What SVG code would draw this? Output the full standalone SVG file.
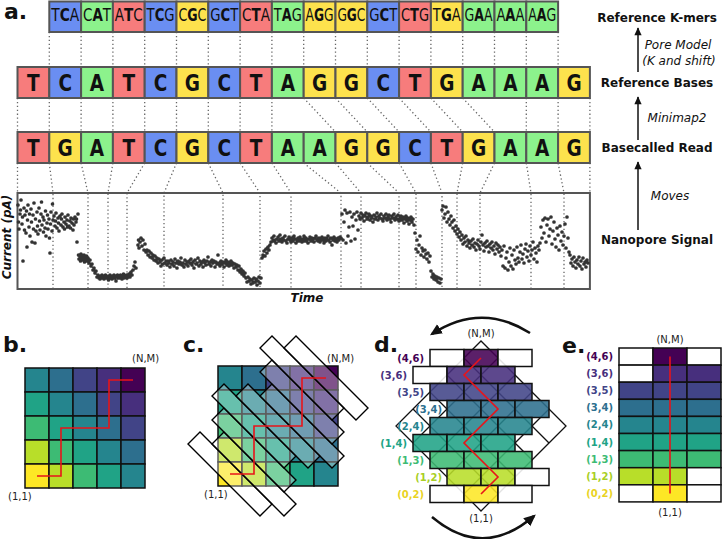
<svg xmlns="http://www.w3.org/2000/svg" width="722" height="539" viewBox="0 0 722 539">
<defs>
<style>
.T{fill:#f77c7c}.C{fill:#6a8ef2}.A{fill:#8cf28c}.G{fill:#fde24d}
.cell{stroke:#555;stroke-width:2}
.km{font-family:"DejaVu Sans",sans-serif;font-size:16px;text-anchor:middle;fill:#111}
.bs{font-family:"DejaVu Sans",sans-serif;font-weight:bold;font-size:18.5px;text-anchor:middle;fill:#111}
.dl{stroke:#666;stroke-width:1.3;stroke-dasharray:1.3 2.6;fill:none}
.rl{font-family:"DejaVu Sans",sans-serif;font-weight:bold;font-size:12px;text-anchor:middle;fill:#111}
.it{font-family:"DejaVu Sans",sans-serif;font-style:italic;font-size:12px;text-anchor:middle;fill:#111}
.bi{font-family:"DejaVu Sans",sans-serif;font-style:italic;font-weight:bold;font-size:12px;text-anchor:middle;fill:#111}
.pl{font-family:"DejaVu Sans",sans-serif;font-weight:bold;font-size:22px;fill:#111}
.sm{font-family:"DejaVu Sans",sans-serif;font-size:10px;fill:#222}
.bl{font-family:"DejaVu Sans",sans-serif;font-weight:bold;font-size:10px;text-anchor:end}
.g rect{stroke:#111;stroke-width:1.5}
.d0{fill:#fde725}.d1{fill:#b8de29}.d2{fill:#3dbb74}.d3{fill:#20a386}.d4{fill:#25858e}.d5{fill:#2d6f8e}.d6{fill:#414487}.d7{fill:#472f7d}.d8{fill:#440154}.w{fill:#fff}
.t0{fill:#e9d31f}.t1{fill:#a9cf25}.t2{fill:#3dbb74}.t3{fill:#20a386}.t4{fill:#25858e}.t5{fill:#2d6f8e}.t6{fill:#414487}.t7{fill:#472f7d}.t8{fill:#440154}
.rp{fill:none;stroke:#e8141a;stroke-width:1.6}
.band{fill:#fff;fill-opacity:.32;stroke:#000;stroke-width:1.4}
.arr{stroke:#111;stroke-width:1.5;fill:none}
.carr{stroke:#111;stroke-width:2.6;fill:none}
</style>
<marker id="ah" viewBox="0 0 10 10" refX="9" refY="5" markerWidth="10" markerHeight="8" orient="auto" markerUnits="userSpaceOnUse"><path d="M0,0.5 L10,5 L0,9.5z" fill="#111"/></marker>
<marker id="ahb" viewBox="0 0 10 10" refX="8" refY="5" markerWidth="12" markerHeight="12" orient="auto" markerUnits="userSpaceOnUse"><path d="M0,0.5 L10,5 L0,9.5z" fill="#111"/></marker>
</defs>
<rect width="722" height="539" fill="#fff"/>

<text class="pl" x="4" y="19">a.</text>

<g id="connectors">
<path class="dl" d="M49.3 32V67M81.1 32V67M112.9 32V67M144.7 32V67M176.5 32V67M208.3 32V67M240.1 32V67M271.9 32V67M303.7 32V67M335.5 32V67M367.3 32V67M399.1 32V67M430.9 32V67M462.7 32V67M494.5 32V67M526.3 32V67M558.1 32V67"/>
<path class="dl" d="M17.5 98V132M49.3 98V132M81.1 98V132M112.9 98V132M144.7 98V132M176.5 98V132M208.3 98V132M240.1 98V132M271.9 98V132M303.7 98L335.5 132M335.5 98L367.3 132M367.3 98L399.1 132M399.1 98L430.9 132M430.9 98L462.7 132M462.7 98L494.5 132M526.3 98V132M558.1 98V132M589.9 98V132"/>
<path class="dl" d="M17.5 163V193M49.3 163L53 193V289M81.1 163L88 193V289M112.9 163L108 193V289M144.7 163L127 193V289M176.5 163L164 193V289M208.3 163L223 193V289M240.1 163L260 193V289M271.9 163L291 193V289M303.7 163L341 193V289M335.5 163L361 193V289M367.3 163L399 193V289M399.1 163L416 193V289M430.9 163L442 193V289M462.7 163L457 193V289M494.5 163L480 193V289M526.3 163L531 193V289M558.1 163L564 193V289M589.9 163V193"/>
<path class="arr" d="M638 72V28" marker-end="url(#ah)"/>
<path class="arr" d="M638 140V97" marker-end="url(#ah)"/>
<path class="arr" d="M638 230V162" marker-end="url(#ah)"/>
</g>

<g id="kmers">
<rect class="cell C" x="49.3" y="1.5" width="31.8" height="30.5"/>
<rect class="cell A" x="81.1" y="1.5" width="31.8" height="30.5"/>
<rect class="cell T" x="112.9" y="1.5" width="31.8" height="30.5"/>
<rect class="cell C" x="144.7" y="1.5" width="31.8" height="30.5"/>
<rect class="cell G" x="176.5" y="1.5" width="31.8" height="30.5"/>
<rect class="cell C" x="208.3" y="1.5" width="31.8" height="30.5"/>
<rect class="cell T" x="240.1" y="1.5" width="31.8" height="30.5"/>
<rect class="cell A" x="271.9" y="1.5" width="31.8" height="30.5"/>
<rect class="cell G" x="303.7" y="1.5" width="31.8" height="30.5"/>
<rect class="cell G" x="335.5" y="1.5" width="31.8" height="30.5"/>
<rect class="cell C" x="367.3" y="1.5" width="31.8" height="30.5"/>
<rect class="cell T" x="399.1" y="1.5" width="31.8" height="30.5"/>
<rect class="cell G" x="430.9" y="1.5" width="31.8" height="30.5"/>
<rect class="cell A" x="462.7" y="1.5" width="31.8" height="30.5"/>
<rect class="cell A" x="494.5" y="1.5" width="31.8" height="30.5"/>
<rect class="cell A" x="526.3" y="1.5" width="31.8" height="30.5"/>
<text class="km" textLength="28" lengthAdjust="spacingAndGlyphs" transform="matrix(1 0 0 1.15 65.2 21)">T<tspan font-weight="bold">C</tspan>A</text>
<text class="km" textLength="28" lengthAdjust="spacingAndGlyphs" transform="matrix(1 0 0 1.15 97 21)">C<tspan font-weight="bold">A</tspan>T</text>
<text class="km" textLength="28" lengthAdjust="spacingAndGlyphs" transform="matrix(1 0 0 1.15 128.8 21)">A<tspan font-weight="bold">T</tspan>C</text>
<text class="km" textLength="28" lengthAdjust="spacingAndGlyphs" transform="matrix(1 0 0 1.15 160.6 21)">T<tspan font-weight="bold">C</tspan>G</text>
<text class="km" textLength="28" lengthAdjust="spacingAndGlyphs" transform="matrix(1 0 0 1.15 192.4 21)">C<tspan font-weight="bold">G</tspan>C</text>
<text class="km" textLength="28" lengthAdjust="spacingAndGlyphs" transform="matrix(1 0 0 1.15 224.2 21)">G<tspan font-weight="bold">C</tspan>T</text>
<text class="km" textLength="28" lengthAdjust="spacingAndGlyphs" transform="matrix(1 0 0 1.15 256 21)">C<tspan font-weight="bold">T</tspan>A</text>
<text class="km" textLength="28" lengthAdjust="spacingAndGlyphs" transform="matrix(1 0 0 1.15 287.8 21)">T<tspan font-weight="bold">A</tspan>G</text>
<text class="km" textLength="28" lengthAdjust="spacingAndGlyphs" transform="matrix(1 0 0 1.15 319.6 21)">A<tspan font-weight="bold">G</tspan>G</text>
<text class="km" textLength="28" lengthAdjust="spacingAndGlyphs" transform="matrix(1 0 0 1.15 351.4 21)">G<tspan font-weight="bold">G</tspan>C</text>
<text class="km" textLength="28" lengthAdjust="spacingAndGlyphs" transform="matrix(1 0 0 1.15 383.2 21)">G<tspan font-weight="bold">C</tspan>T</text>
<text class="km" textLength="28" lengthAdjust="spacingAndGlyphs" transform="matrix(1 0 0 1.15 415 21)">C<tspan font-weight="bold">T</tspan>G</text>
<text class="km" textLength="28" lengthAdjust="spacingAndGlyphs" transform="matrix(1 0 0 1.15 446.8 21)">T<tspan font-weight="bold">G</tspan>A</text>
<text class="km" textLength="28" lengthAdjust="spacingAndGlyphs" transform="matrix(1 0 0 1.15 478.6 21)">G<tspan font-weight="bold">A</tspan>A</text>
<text class="km" textLength="28" lengthAdjust="spacingAndGlyphs" transform="matrix(1 0 0 1.15 510.4 21)">A<tspan font-weight="bold">A</tspan>A</text>
<text class="km" textLength="28" lengthAdjust="spacingAndGlyphs" transform="matrix(1 0 0 1.15 542.2 21)">A<tspan font-weight="bold">A</tspan>G</text>
</g>

<g id="reference-bases">
<rect class="cell T" x="17.5" y="67" width="31.8" height="31"/>
<rect class="cell C" x="49.3" y="67" width="31.8" height="31"/>
<rect class="cell A" x="81.1" y="67" width="31.8" height="31"/>
<rect class="cell T" x="112.9" y="67" width="31.8" height="31"/>
<rect class="cell C" x="144.7" y="67" width="31.8" height="31"/>
<rect class="cell G" x="176.5" y="67" width="31.8" height="31"/>
<rect class="cell C" x="208.3" y="67" width="31.8" height="31"/>
<rect class="cell T" x="240.1" y="67" width="31.8" height="31"/>
<rect class="cell A" x="271.9" y="67" width="31.8" height="31"/>
<rect class="cell G" x="303.7" y="67" width="31.8" height="31"/>
<rect class="cell G" x="335.5" y="67" width="31.8" height="31"/>
<rect class="cell C" x="367.3" y="67" width="31.8" height="31"/>
<rect class="cell T" x="399.1" y="67" width="31.8" height="31"/>
<rect class="cell G" x="430.9" y="67" width="31.8" height="31"/>
<rect class="cell A" x="462.7" y="67" width="31.8" height="31"/>
<rect class="cell A" x="494.5" y="67" width="31.8" height="31"/>
<rect class="cell A" x="526.3" y="67" width="31.8" height="31"/>
<rect class="cell G" x="558.1" y="67" width="31.8" height="31"/>
<text class="bs" transform="matrix(1 0 0 1.2 33.4 90.6)">T</text>
<text class="bs" transform="matrix(1 0 0 1.2 65.2 90.6)">C</text>
<text class="bs" transform="matrix(1 0 0 1.2 97 90.6)">A</text>
<text class="bs" transform="matrix(1 0 0 1.2 128.8 90.6)">T</text>
<text class="bs" transform="matrix(1 0 0 1.2 160.6 90.6)">C</text>
<text class="bs" transform="matrix(1 0 0 1.2 192.4 90.6)">G</text>
<text class="bs" transform="matrix(1 0 0 1.2 224.2 90.6)">C</text>
<text class="bs" transform="matrix(1 0 0 1.2 256 90.6)">T</text>
<text class="bs" transform="matrix(1 0 0 1.2 287.8 90.6)">A</text>
<text class="bs" transform="matrix(1 0 0 1.2 319.6 90.6)">G</text>
<text class="bs" transform="matrix(1 0 0 1.2 351.4 90.6)">G</text>
<text class="bs" transform="matrix(1 0 0 1.2 383.2 90.6)">C</text>
<text class="bs" transform="matrix(1 0 0 1.2 415 90.6)">T</text>
<text class="bs" transform="matrix(1 0 0 1.2 446.8 90.6)">G</text>
<text class="bs" transform="matrix(1 0 0 1.2 478.6 90.6)">A</text>
<text class="bs" transform="matrix(1 0 0 1.2 510.4 90.6)">A</text>
<text class="bs" transform="matrix(1 0 0 1.2 542.2 90.6)">A</text>
<text class="bs" transform="matrix(1 0 0 1.2 574 90.6)">G</text>
</g>

<g id="basecalled-read">
<rect class="cell T" x="17.5" y="132" width="31.8" height="31"/>
<rect class="cell G" x="49.3" y="132" width="31.8" height="31"/>
<rect class="cell A" x="81.1" y="132" width="31.8" height="31"/>
<rect class="cell T" x="112.9" y="132" width="31.8" height="31"/>
<rect class="cell C" x="144.7" y="132" width="31.8" height="31"/>
<rect class="cell G" x="176.5" y="132" width="31.8" height="31"/>
<rect class="cell C" x="208.3" y="132" width="31.8" height="31"/>
<rect class="cell T" x="240.1" y="132" width="31.8" height="31"/>
<rect class="cell A" x="271.9" y="132" width="31.8" height="31"/>
<rect class="cell A" x="303.7" y="132" width="31.8" height="31"/>
<rect class="cell G" x="335.5" y="132" width="31.8" height="31"/>
<rect class="cell G" x="367.3" y="132" width="31.8" height="31"/>
<rect class="cell C" x="399.1" y="132" width="31.8" height="31"/>
<rect class="cell T" x="430.9" y="132" width="31.8" height="31"/>
<rect class="cell G" x="462.7" y="132" width="31.8" height="31"/>
<rect class="cell A" x="494.5" y="132" width="31.8" height="31"/>
<rect class="cell A" x="526.3" y="132" width="31.8" height="31"/>
<rect class="cell G" x="558.1" y="132" width="31.8" height="31"/>
<text class="bs" transform="matrix(1 0 0 1.2 33.4 155.6)">T</text>
<text class="bs" transform="matrix(1 0 0 1.2 65.2 155.6)">G</text>
<text class="bs" transform="matrix(1 0 0 1.2 97 155.6)">A</text>
<text class="bs" transform="matrix(1 0 0 1.2 128.8 155.6)">T</text>
<text class="bs" transform="matrix(1 0 0 1.2 160.6 155.6)">C</text>
<text class="bs" transform="matrix(1 0 0 1.2 192.4 155.6)">G</text>
<text class="bs" transform="matrix(1 0 0 1.2 224.2 155.6)">C</text>
<text class="bs" transform="matrix(1 0 0 1.2 256 155.6)">T</text>
<text class="bs" transform="matrix(1 0 0 1.2 287.8 155.6)">A</text>
<text class="bs" transform="matrix(1 0 0 1.2 319.6 155.6)">A</text>
<text class="bs" transform="matrix(1 0 0 1.2 351.4 155.6)">G</text>
<text class="bs" transform="matrix(1 0 0 1.2 383.2 155.6)">G</text>
<text class="bs" transform="matrix(1 0 0 1.2 415 155.6)">C</text>
<text class="bs" transform="matrix(1 0 0 1.2 446.8 155.6)">T</text>
<text class="bs" transform="matrix(1 0 0 1.2 478.6 155.6)">G</text>
<text class="bs" transform="matrix(1 0 0 1.2 510.4 155.6)">A</text>
<text class="bs" transform="matrix(1 0 0 1.2 542.2 155.6)">A</text>
<text class="bs" transform="matrix(1 0 0 1.2 574 155.6)">G</text>
</g>

<g id="signal">
<rect x="17.5" y="193" width="572.4" height="96" fill="none" stroke="#555" stroke-width="2"/>
<path fill="none" stroke="#333" stroke-width="3.7" stroke-linecap="round" d="M18 205h0M18.5 222h0M19 229h0M20 214h0M20.5 210h0M21 200h0M22 224h0M22.5 217h0M23 261h0M24 208h0M24.5 230h0M25 215h0M26 233h0M26.5 211h0M27 247h0M27.5 220h0M28 205h0M29 227h0M29.5 214h0M30 236h0M31 209h0M31.5 222h0M32 242h0M33 215h0M33.5 229h0M34 203h0M35 243h0M35.5 219h0M36 231h0M37 212h0M37.5 226h0M38 234h0M39 208h0M39.5 221h0M40 230h0M41 214h0M41.5 202h0M42 225h0M43 217h0M43.5 232h0M44 220h0M45 228h0M45.5 211h0M46 236h0M47 223h0M47.5 215h0M48 229h0M49 219h0M49.5 238h0M50 253h0M50.5 224h0M51 212h0M52 231h0M52.5 204h0M53 220h0M54 216h0M55 226h0M55.5 221h0M56 213h0M57 228h0M58 218h0M58.5 223h0M59 231h0M60 216h0M61 225h0M61.5 219h0M62 214h0M63 227h0M64 222h0M64.5 229h0M65 217h0M66 224h0M67 220h0M67.5 227h0M68 215h0M69 226h0M70 221h0M70.5 228h0M71 218h0M72 223h0M73 230h0M73.5 219h0M74 225h0M75 217h0M76 222h0M76.5 219h0M77 242h0M78 214h0M78.5 255h0M79 259h0M80 257h0M80.5 261h0M81 254h0M82 258h0M82.5 256h0M83 260h0M84 255h0M84.5 262h0M85 257h0M86 259h0M86.5 256h0M87 261h0M88 258h0M89 263h0M90 260h0M91 266h0M92 264h0M93 270h0M94 268h0M95 273h0M96 271h0M97 277h0M98 275h0M99 278h0M99.5 276h0M100 279h0M101 277h0M102 275h0M102.5 278h0M103 276h0M104 279h0M105 277h0M105.5 275h0M106 278h0M107 276h0M108 278h0M108.5 280h0M109 277h0M110 275h0M111 278h0M111.5 276h0M112 279h0M113 277h0M114 275h0M114.5 278h0M115 276h0M116 281h0M117 277h0M117.5 275h0M118 278h0M119 276h0M120 278h0M120.5 275h0M121 277h0M122 279h0M123 276h0M123.5 274h0M124 278h0M125 276h0M126 277h0M126.5 275h0M127 278h0M128 276h0M129 274h0M130 277h0M131 272h0M132 275h0M133 270h0M134 266h0M135 262h0M136 268h0M138 245h0M138.5 240h0M139 248h0M140 242h0M141 238h0M142 246h0M143 240h0M144 250h0M145 244h0M146 252h0M147 250h0M148 255h0M149 251h0M150 257h0M151 253h0M152 258h0M153 255h0M154 260h0M155 256h0M156 261h0M157 258h0M158 263h0M159 259h0M160 262h0M161 266h0M162 260h0M163 264h0M164 258h0M165 263h0M166 261h0M167 265h0M168 261h0M169 263h0M170 267h0M171 260h0M172 264h0M173 262h0M174 266h0M175 259h0M176 263h0M177 268h0M178 261h0M179 264h0M180 262h0M181 258h0M182 265h0M183 263h0M184 267h0M185 260h0M186 264h0M187 262h0M188 266h0M189 261h0M190 263h0M191 259h0M192 265h0M193 262h0M194 268h0M195 260h0M196 264h0M197 263h0M198 258h0M199 266h0M200 261h0M201 264h0M202 262h0M203 267h0M204 260h0M205 263h0M206 265h0M207 261h0M208 257h0M209 264h0M210 262h0M211 266h0M212 260h0M213 263h0M214 261h0M215 267h0M216 262h0M217 264h0M218 255h0M219 263h0M220 266h0M221 261h0M222 264h0M223 262h0M224 267h0M225 263h0M226 260h0M227 265h0M228 262h0M229 266h0M230 263h0M231 261h0M232 265h0M233 263h0M234 268h0M235 264h0M236 267h0M237 265h0M238 270h0M239 266h0M240 272h0M241 269h0M242 274h0M243 271h0M244 276h0M245 273h0M246 278h0M247 282h0M248 277h0M249 281h0M250 279h0M251 284h0M252 280h0M253 283h0M254 278h0M255 282h0M256 279h0M257 285h0M258 281h0M259 277h0M260 283h0M261 278h0M262 258h0M263 255h0M264 251h0M265 256h0M266 249h0M267 253h0M268 247h0M269 250h0M270 245h0M271 242h0M272 238h0M273 241h0M274 236h0M275 240h0M276 243h0M277 239h0M278 237h0M279 241h0M280 235h0M281 239h0M282 242h0M283 238h0M284 240h0M285 236h0M286 241h0M287 243h0M288 239h0M289 237h0M290 240h0M291 242h0M292 238h0M293 241h0M294 236h0M295 239h0M296 243h0M297 240h0M298 238h0M299 241h0M300 237h0M301 240h0M302 242h0M303 239h0M304 236h0M305 241h0M306 238h0M307 240h0M308 243h0M309 239h0M310 237h0M311 241h0M312 238h0M313 240h0M314 242h0M315 238h0M316 236h0M317 240h0M318 241h0M319 238h0M320 242h0M321 239h0M322 237h0M323 240h0M324 243h0M325 238h0M326 241h0M327 239h0M328 236h0M329 240h0M330 242h0M331 238h0M332 245h0M333 240h0M334 237h0M335 241h0M336 239h0M337 242h0M338 238h0M339 240h0M340 237h0M341 238h0M342 214h0M343 240h0M344 222h0M345 210h0M346 243h0M347 213h0M348 236h0M349 227h0M350 212h0M351 241h0M352 217h0M353 226h0M354 214h0M355 239h0M356 220h0M357 212h0M358 230h0M359 216h0M360 219h0M361 213h0M362 218h0M363 215h0M364 221h0M365 216h0M366 213h0M367 219h0M368 217h0M369 214h0M370 220h0M371 216h0M372 218h0M373 222h0M374 215h0M375 219h0M376 217h0M377 213h0M378 220h0M379 216h0M380 218h0M381 214h0M382 219h0M383 221h0M384 216h0M385 218h0M386 214h0M387 220h0M388 217h0M389 215h0M390 219h0M391 222h0M392 216h0M393 218h0M394 214h0M395 220h0M396 217h0M397 219h0M398 215h0M399 221h0M400 218h0M401 216h0M402 220h0M403 217h0M404 223h0M405 219h0M406 216h0M407 221h0M408 218h0M409 224h0M410 220h0M411 217h0M412 222h0M413 219h0M414 225h0M415 233h0M416 249h0M417 240h0M418 252h0M419 245h0M420 236h0M421 255h0M422 248h0M423 251h0M424 257h0M425 250h0M426 254h0M427 259h0M428 253h0M429 262h0M430 256h0M431 271h0M432 277h0M433 274h0M434 279h0M435 276h0M436 280h0M437 277h0M438 282h0M439 278h0M440 283h0M441 279h0M442 210h0M443 206h0M444 218h0M445 214h0M446 207h0M447 222h0M448 212h0M449 219h0M450 225h0M451 216h0M452 222h0M453 228h0M454 220h0M455 231h0M456 226h0M457 234h0M458 229h0M459 237h0M460 232h0M461 240h0M462 235h0M463 244h0M464 238h0M465 242h0M466 236h0M467 246h0M468 240h0M469 243h0M470 248h0M471 241h0M472 245h0M473 239h0M474 247h0M475 243h0M476 250h0M477 244h0M478 240h0M479 246h0M480 249h0M481 242h0M482 235h0M483 245h0M484 251h0M485 243h0M486 247h0M487 241h0M488 246h0M489 252h0M490 244h0M491 248h0M492 242h0M493 250h0M494 246h0M495 254h0M496 243h0M497 249h0M498 245h0M499 252h0M500 247h0M501 256h0M502 250h0M503 266h0M504 246h0M505 268h0M506 258h0M507 252h0M508 270h0M509 262h0M510 248h0M511 266h0M512 255h0M513 269h0M514 250h0M515 260h0M516 264h0M517 247h0M518 258h0M519 262h0M520 252h0M521 245h0M522 259h0M523 254h0M524 263h0M525 249h0M526 244h0M527 257h0M528 251h0M529 261h0M530 246h0M531 255h0M532 250h0M533 242h0M534 259h0M535 248h0M536 253h0M537 262h0M538 246h0M539 250h0M540 243h0M541 227h0M542 238h0M543 220h0M544 233h0M545 218h0M546 242h0M547 225h0M548 219h0M549 236h0M550 229h0M551 217h0M552 244h0M553 231h0M554 222h0M555 239h0M556 247h0M557 228h0M558 235h0M559 250h0M560 226h0M561 241h0M562 232h0M563 245h0M564 236h0M565 224h0M566 248h0M567 217h0M568 238h0M569 252h0M570 255h0M571 263h0M572 259h0M573 266h0M574 257h0M575 262h0M576 268h0M577 260h0M578 264h0M579 257h0M580 266h0M581 261h0M582 269h0M583 258h0M584 264h0M585 262h0M586 267h0M587 260h0M588 263h0"/>
<text class="bi" transform="translate(10.5 237) rotate(-90)">Current (pA)</text>
<text class="bi" x="307" y="302">Time</text>
</g>

<g id="row-labels">
<text class="rl" x="657" y="22">Reference K-mers</text>
<text class="rl" x="657" y="87">Reference Bases</text>
<text class="rl" x="657" y="152">Basecalled Read</text>
<text class="rl" x="657" y="244">Nanopore Signal</text>
<text class="it" x="678" y="49">Pore Model</text>
<text class="it" x="679" y="65">(K and shift)</text>
<text class="it" x="677" y="122">Minimap2</text>
<text class="it" x="670" y="200">Moves</text>
</g>

<g id="panel-b">
<text class="pl" x="3" y="352">b.</text>
<g class="g">
<rect class="d4" x="25" y="368" width="24" height="24"/><rect class="d5" x="49" y="368" width="24" height="24"/><rect class="d6" x="73" y="368" width="24" height="24"/><rect class="d7" x="97" y="368" width="24" height="24"/><rect class="d8" x="121" y="368" width="24" height="24"/>
<rect class="d3" x="25" y="392" width="24" height="24"/><rect class="d4" x="49" y="392" width="24" height="24"/><rect class="d5" x="73" y="392" width="24" height="24"/><rect class="d6" x="97" y="392" width="24" height="24"/><rect class="d7" x="121" y="392" width="24" height="24"/>
<rect class="d2" x="25" y="416" width="24" height="24"/><rect class="d3" x="49" y="416" width="24" height="24"/><rect class="d4" x="73" y="416" width="24" height="24"/><rect class="d5" x="97" y="416" width="24" height="24"/><rect class="d6" x="121" y="416" width="24" height="24"/>
<rect class="d1" x="25" y="440" width="24" height="24"/><rect class="d2" x="49" y="440" width="24" height="24"/><rect class="d3" x="73" y="440" width="24" height="24"/><rect class="d4" x="97" y="440" width="24" height="24"/><rect class="d5" x="121" y="440" width="24" height="24"/>
<rect class="d0" x="25" y="464" width="24" height="24"/><rect class="d1" x="49" y="464" width="24" height="24"/><rect class="d2" x="73" y="464" width="24" height="24"/><rect class="d3" x="97" y="464" width="24" height="24"/><rect class="d4" x="121" y="464" width="24" height="24"/>
</g>
<path class="rp" d="M37 476H61V428H109V380H133"/>
<text class="sm" x="132" y="362">(N,M)</text>
<text class="sm" x="8" y="500">(1,1)</text>
</g>

<g id="panel-c">
<text class="pl" x="183" y="352">c.</text>
<g class="g">
<rect class="d4" x="218" y="366" width="24" height="24"/><rect class="d5" x="242" y="366" width="24" height="24"/><rect class="d6" x="266" y="366" width="24" height="24"/><rect class="d7" x="290" y="366" width="24" height="24"/><rect class="d8" x="314" y="366" width="24" height="24"/>
<rect class="d3" x="218" y="390" width="24" height="24"/><rect class="d4" x="242" y="390" width="24" height="24"/><rect class="d5" x="266" y="390" width="24" height="24"/><rect class="d6" x="290" y="390" width="24" height="24"/><rect class="d7" x="314" y="390" width="24" height="24"/>
<rect class="d2" x="218" y="414" width="24" height="24"/><rect class="d3" x="242" y="414" width="24" height="24"/><rect class="d4" x="266" y="414" width="24" height="24"/><rect class="d5" x="290" y="414" width="24" height="24"/><rect class="d6" x="314" y="414" width="24" height="24"/>
<rect class="d1" x="218" y="438" width="24" height="24"/><rect class="d2" x="242" y="438" width="24" height="24"/><rect class="d3" x="266" y="438" width="24" height="24"/><rect class="d4" x="290" y="438" width="24" height="24"/><rect class="d5" x="314" y="438" width="24" height="24"/>
<rect class="d0" x="218" y="462" width="24" height="24"/><rect class="d1" x="242" y="462" width="24" height="24"/><rect class="d2" x="266" y="462" width="24" height="24"/><rect class="d3" x="290" y="462" width="24" height="24"/><rect class="d4" x="314" y="462" width="24" height="24"/>
</g>
<polygon class="band" points="188,444 260,516 272,504 200,432"/>
<polygon class="band" points="212,444 284,516 296,504 224,432"/>
<polygon class="band" points="212,420 284,492 296,480 224,408"/>
<polygon class="band" points="212,396 284,468 296,456 224,384"/>
<polygon class="band" points="236,396 308,468 320,456 248,384"/>
<polygon class="band" points="260,396 332,468 344,456 272,384"/>
<polygon class="band" points="260,372 332,444 344,432 272,360"/>
<polygon class="band" points="260,348 332,420 344,408 272,336"/>
<polygon class="band" points="284,348 356,420 368,408 296,336"/>
<path class="rp" d="M230 474H254V426H302V378H326"/>
<text class="sm" x="327" y="362">(N,M)</text>
<text class="sm" x="204" y="498">(1,1)</text>
</g>

<g id="panel-d">
<text class="pl" x="374" y="352">d.</text>
<path class="carr" d="M530 333Q481 302 432 334" marker-end="url(#ahb)"/>
<path class="carr" d="M432 517Q483 560 534 516" marker-end="url(#ahb)"/>
<polygon points="481,511 566,426 481,341 396,426" fill="#fff" stroke="#111" stroke-width="1.3"/>
<path fill="none" stroke="#111" stroke-width="1.3" d="M498 494L413 409M515 477L430 392M532 460L447 375M549 443L464 358M464 494L549 409M447 477L532 392M430 460L515 375M413 443L498 358"/>
<g class="g" fill-opacity="0.88">
<rect class="w" x="430" y="349.5" width="34" height="17"/><rect class="d8" x="464" y="349.5" width="34" height="17"/><rect class="w" x="498" y="349.5" width="34" height="17"/>
<rect class="w" x="413" y="366.5" width="34" height="17"/><rect class="d7" x="447" y="366.5" width="34" height="17"/><rect class="d7" x="481" y="366.5" width="34" height="17"/>
<rect class="d6" x="430" y="383.5" width="34" height="17"/><rect class="d6" x="464" y="383.5" width="34" height="17"/><rect class="d6" x="498" y="383.5" width="34" height="17"/>
<rect class="d5" x="447" y="400.5" width="34" height="17"/><rect class="d5" x="481" y="400.5" width="34" height="17"/><rect class="d5" x="515" y="400.5" width="34" height="17"/>
<rect class="d4" x="430" y="417.5" width="34" height="17"/><rect class="d4" x="464" y="417.5" width="34" height="17"/><rect class="d4" x="498" y="417.5" width="34" height="17"/>
<rect class="d3" x="413" y="434.5" width="34" height="17"/><rect class="d3" x="447" y="434.5" width="34" height="17"/><rect class="d3" x="481" y="434.5" width="34" height="17"/>
<rect class="d2" x="430" y="451.5" width="34" height="17"/><rect class="d2" x="464" y="451.5" width="34" height="17"/><rect class="d2" x="498" y="451.5" width="34" height="17"/>
<rect class="d1" x="447" y="468.5" width="34" height="17"/><rect class="d1" x="481" y="468.5" width="34" height="17"/><rect class="w" x="515" y="468.5" width="34" height="17"/>
<rect class="w" x="430" y="485.5" width="34" height="17"/><rect class="d0" x="464" y="485.5" width="34" height="17"/><rect class="w" x="498" y="485.5" width="34" height="17"/>
</g>
<path class="rp" d="M481 494L498 477L464 443L498 409L464 375L481 358"/>
<text class="bl t8" x="424" y="361.5">(4,6)</text>
<text class="bl t7" x="407" y="378.5">(3,6)</text>
<text class="bl t6" x="424" y="395.5">(3,5)</text>
<text class="bl t5" x="442" y="412.5">(3,4)</text>
<text class="bl t4" x="424" y="429.5">(2,4)</text>
<text class="bl t3" x="407" y="446.5">(1,4)</text>
<text class="bl t2" x="424" y="463.5">(1,3)</text>
<text class="bl t1" x="442" y="480.5">(1,2)</text>
<text class="bl t0" x="424" y="497.5">(0,2)</text>
<text class="sm" x="481" y="337" text-anchor="middle">(N,M)</text>
<text class="sm" x="481" y="522" text-anchor="middle">(1,1)</text>
</g>

<g id="panel-e">
<text class="pl" x="562" y="353">e.</text>
<g class="g">
<rect class="w" x="619" y="348" width="34" height="17.1"/><rect class="d8" x="653" y="348" width="34" height="17.1"/><rect class="w" x="687" y="348" width="34" height="17.1"/>
<rect class="w" x="619" y="365.1" width="34" height="17.1"/><rect class="d7" x="653" y="365.1" width="34" height="17.1"/><rect class="d7" x="687" y="365.1" width="34" height="17.1"/>
<rect class="d6" x="619" y="382.2" width="34" height="17.1"/><rect class="d6" x="653" y="382.2" width="34" height="17.1"/><rect class="d6" x="687" y="382.2" width="34" height="17.1"/>
<rect class="d5" x="619" y="399.3" width="34" height="17.1"/><rect class="d5" x="653" y="399.3" width="34" height="17.1"/><rect class="d5" x="687" y="399.3" width="34" height="17.1"/>
<rect class="d4" x="619" y="416.4" width="34" height="17.1"/><rect class="d4" x="653" y="416.4" width="34" height="17.1"/><rect class="d4" x="687" y="416.4" width="34" height="17.1"/>
<rect class="d3" x="619" y="433.5" width="34" height="17.1"/><rect class="d3" x="653" y="433.5" width="34" height="17.1"/><rect class="d3" x="687" y="433.5" width="34" height="17.1"/>
<rect class="d2" x="619" y="450.6" width="34" height="17.1"/><rect class="d2" x="653" y="450.6" width="34" height="17.1"/><rect class="d2" x="687" y="450.6" width="34" height="17.1"/>
<rect class="d1" x="619" y="467.7" width="34" height="17.1"/><rect class="d1" x="653" y="467.7" width="34" height="17.1"/><rect class="w" x="687" y="467.7" width="34" height="17.1"/>
<rect class="w" x="619" y="484.8" width="34" height="17.1"/><rect class="d0" x="653" y="484.8" width="34" height="17.1"/><rect class="w" x="687" y="484.8" width="34" height="17.1"/>
</g>
<path class="rp" d="M670 356.5V493.5"/>
<text class="bl t8" x="613" y="360">(4,6)</text>
<text class="bl t7" x="613" y="377.1">(3,6)</text>
<text class="bl t6" x="613" y="394.2">(3,5)</text>
<text class="bl t5" x="613" y="411.3">(3,4)</text>
<text class="bl t4" x="613" y="428.4">(2,4)</text>
<text class="bl t3" x="613" y="445.5">(1,4)</text>
<text class="bl t2" x="613" y="462.6">(1,3)</text>
<text class="bl t1" x="613" y="479.7">(1,2)</text>
<text class="bl t0" x="613" y="496.8">(0,2)</text>
<text class="sm" x="670" y="343" text-anchor="middle">(N,M)</text>
<text class="sm" x="670" y="516" text-anchor="middle">(1,1)</text>
</g>
</svg>
